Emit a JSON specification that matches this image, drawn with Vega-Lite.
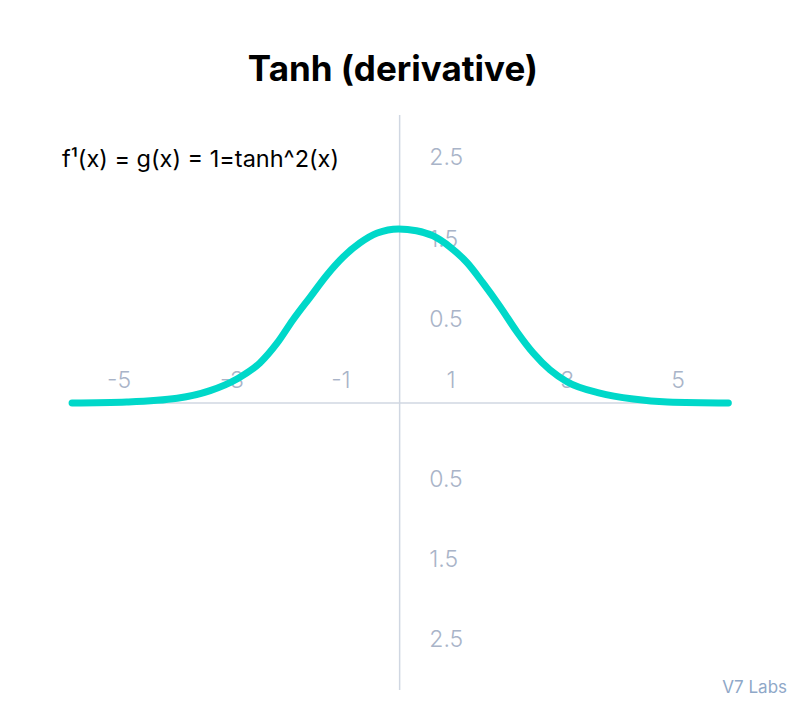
{
  "$schema": "https://vega.github.io/schema/vega-lite/v6.json",
  "width": 800,
  "height": 707,
  "autosize": "none",
  "padding": 0,
  "background": "white",
  "config": {"view": {"stroke": null}, "font": "Inter"},
  "datasets": {
    "curve": [
      {"x": -5.84, "y": 0.0},
      {"x": -4.86, "y": 0.006},
      {"x": -3.96, "y": 0.027},
      {"x": -3.37, "y": 0.071},
      {"x": -2.89, "y": 0.138},
      {"x": -2.48, "y": 0.23},
      {"x": -2.17, "y": 0.345},
      {"x": -1.89, "y": 0.477},
      {"x": -1.58, "y": 0.609},
      {"x": -1.28, "y": 0.736},
      {"x": -0.99, "y": 0.839},
      {"x": -0.69, "y": 0.92},
      {"x": -0.38, "y": 0.977},
      {"x": 0.0, "y": 1.0},
      {"x": 0.32, "y": 0.99},
      {"x": 0.62, "y": 0.96},
      {"x": 0.92, "y": 0.897},
      {"x": 1.23, "y": 0.805},
      {"x": 1.51, "y": 0.69},
      {"x": 1.82, "y": 0.552},
      {"x": 2.12, "y": 0.408},
      {"x": 2.41, "y": 0.287},
      {"x": 2.71, "y": 0.19},
      {"x": 3.02, "y": 0.121},
      {"x": 3.6, "y": 0.057},
      {"x": 4.2, "y": 0.023},
      {"x": 4.81, "y": 0.006},
      {"x": 5.9, "y": 0.0}
    ],
    "xlabels": [
      {"x": -5.0, "y": 0.126, "label": "-5"},
      {"x": -2.98, "y": 0.126, "label": "-3"},
      {"x": -1.03, "y": 0.126, "label": "-1"},
      {"x": 0.94, "y": 0.126, "label": "1"},
      {"x": 3.02, "y": 0.126, "label": "3"},
      {"x": 5.0, "y": 0.126, "label": "5"}
    ],
    "ylabels": [
      {"x": 0.55, "y": 1.408, "label": "2.5"},
      {"x": 0.55, "y": 0.937, "label": "1.5"},
      {"x": 0.55, "y": 0.477, "label": "0.5"},
      {"x": 0.55, "y": -0.443, "label": "0.5"},
      {"x": 0.55, "y": -0.902, "label": "1.5"},
      {"x": 0.55, "y": -1.362, "label": "2.5"}
    ]
  },
  "encoding": {},
  "layer": [
    {
      "data": {"values": [{"x1": -5.8, "x2": 5.85, "y": 0}]},
      "mark": {"type": "rule", "color": "#d0d7e2", "strokeWidth": 1.5},
      "encoding": {
        "x": {"field": "x1", "type": "quantitative", "scale": {"domain": [-7.129, 7.182], "nice": false, "zero": false}, "axis": null},
        "x2": {"field": "x2"},
        "y": {"field": "y", "type": "quantitative", "scale": {"domain": [-1.747, 2.316], "nice": false, "zero": false}, "axis": null}
      }
    },
    {
      "data": {"values": [{"x": 0.02, "y1": -1.65, "y2": 1.655}]},
      "mark": {"type": "rule", "color": "#d0d7e2", "strokeWidth": 1.5},
      "encoding": {
        "x": {"field": "x", "type": "quantitative"},
        "y": {"field": "y1", "type": "quantitative"},
        "y2": {"field": "y2"}
      }
    },
    {
      "data": {"name": "xlabels"},
      "mark": {"type": "text", "color": "#a9b4c8", "fontSize": 23, "fontWeight": 300, "align": "center", "baseline": "middle"},
      "encoding": {
        "x": {"field": "x", "type": "quantitative"},
        "y": {"field": "y", "type": "quantitative"},
        "text": {"field": "label"}
      }
    },
    {
      "data": {"name": "ylabels"},
      "mark": {"type": "text", "color": "#a9b4c8", "fontSize": 23, "fontWeight": 300, "align": "left", "baseline": "middle"},
      "encoding": {
        "x": {"field": "x", "type": "quantitative"},
        "y": {"field": "y", "type": "quantitative"},
        "text": {"field": "label"}
      }
    },
    {
      "data": {"name": "curve"},
      "mark": {"type": "line", "color": "#00d8c9", "strokeWidth": 7, "strokeCap": "round", "interpolate": "monotone"},
      "encoding": {
        "x": {"field": "x", "type": "quantitative"},
        "y": {"field": "y", "type": "quantitative"}
      }
    },
    {
      "data": {"values": [{"x": -0.1, "y": 1.914, "label": "Tanh (derivative)"}]},
      "mark": {"type": "text", "color": "#000000", "fontSize": 35, "fontWeight": "bold", "align": "center", "baseline": "middle"},
      "encoding": {
        "x": {"field": "x", "type": "quantitative"},
        "y": {"field": "y", "type": "quantitative"},
        "text": {"field": "label"}
      }
    },
    {
      "data": {"values": [{"x": -6.02, "y": 1.397, "label": "f¹(x) = g(x) = 1=tanh^2(x)"}]},
      "mark": {"type": "text", "color": "#000000", "fontSize": 23.5, "align": "left", "baseline": "middle"},
      "encoding": {
        "x": {"field": "x", "type": "quantitative"},
        "y": {"field": "y", "type": "quantitative"},
        "text": {"field": "label"}
      }
    },
    {
      "data": {"values": [{"x": 6.95, "y": -1.638, "label": "V7 Labs"}]},
      "mark": {"type": "text", "color": "#8fa8c8", "fontSize": 17, "align": "right", "baseline": "middle"},
      "encoding": {
        "x": {"field": "x", "type": "quantitative"},
        "y": {"field": "y", "type": "quantitative"},
        "text": {"field": "label"}
      }
    }
  ]
}
